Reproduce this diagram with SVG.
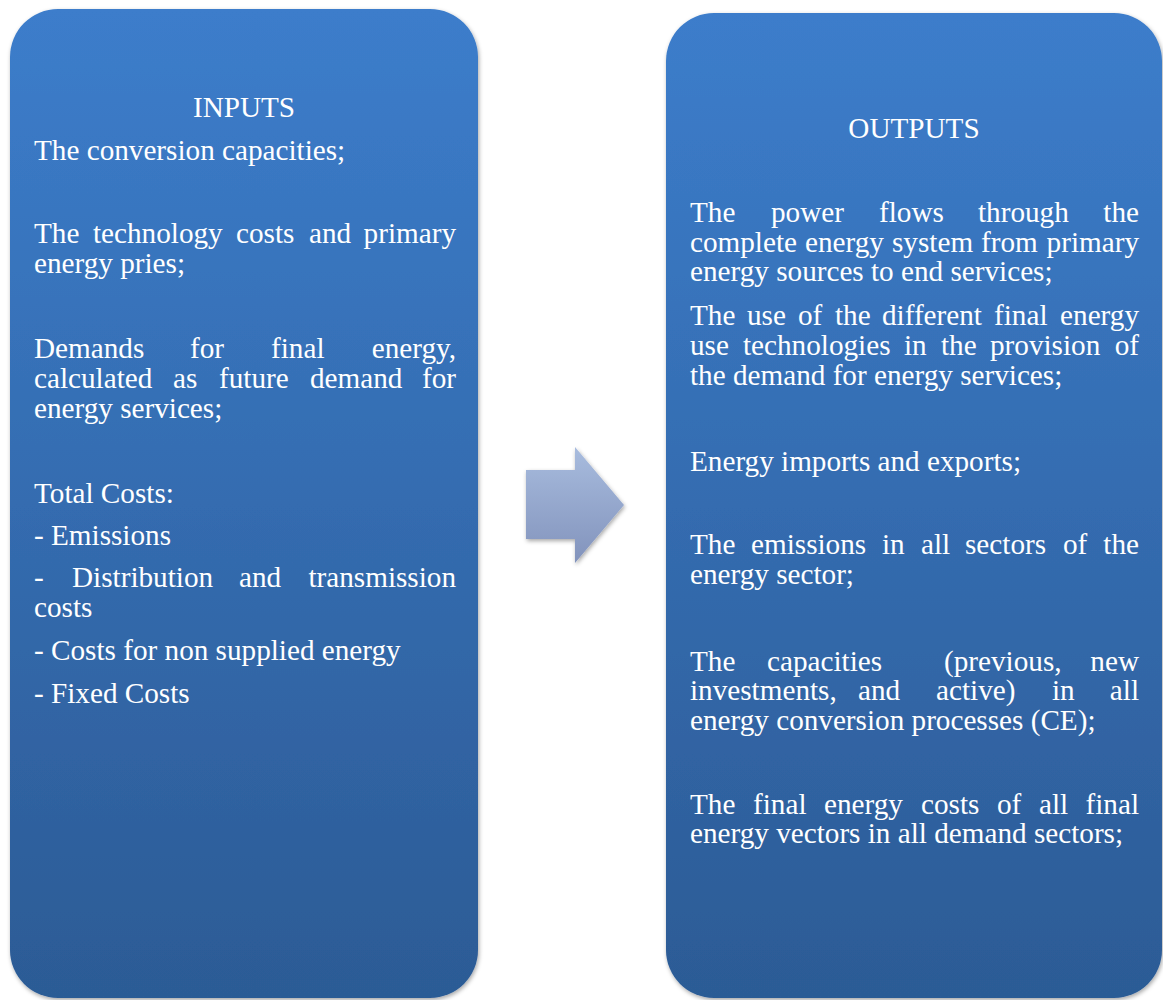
<svg xmlns="http://www.w3.org/2000/svg" width="1163" height="1000" viewBox="0 0 1163 1000">
  <defs>
    <linearGradient id="boxGrad" x1="0" y1="0" x2="0" y2="1">
      <stop offset="0" stop-color="#3C7DCB"/>
      <stop offset="1" stop-color="#2C5B95"/>
    </linearGradient>
    <linearGradient id="arrowGrad" x1="0" y1="0" x2="0" y2="1">
      <stop offset="0" stop-color="#A8BCDE"/>
      <stop offset="1" stop-color="#8293BC"/>
    </linearGradient>
    <filter id="shadow" x="-5%" y="-5%" width="110%" height="110%">
      <feDropShadow dx="1" dy="2" stdDeviation="2" flood-color="#000" flood-opacity="0.35"/>
    </filter>
  </defs>
  <style>
    .box { fill: url(#boxGrad); filter: url(#shadow); }
    .t { font-family: "Liberation Serif", "Times New Roman", serif; font-size: 29.2px; fill: #FFFFFF; }
    .title { text-anchor: middle; }
  </style>
  <rect width="1163" height="1000" fill="#FFFFFF"/>

  <g id="node-inputs">
    <rect class="box" x="10" y="9" width="468" height="989" rx="48" ry="48"/>
    <text class="t title" x="244" y="117">INPUTS</text>
    <text class="t" x="34" y="160">The conversion capacities;</text>
    <text class="t" y="243"><tspan x="34">The</tspan><tspan x="93">technology</tspan><tspan x="236">costs</tspan><tspan x="309">and</tspan><tspan x="456" text-anchor="end">primary</tspan></text>
    <text class="t" x="34" y="273">energy pries;</text>
    <text class="t" y="358"><tspan x="34">Demands</tspan><tspan x="190">for</tspan><tspan x="271">final</tspan><tspan x="456" text-anchor="end">energy,</tspan></text>
    <text class="t" y="388"><tspan x="34">calculated</tspan><tspan x="173">as</tspan><tspan x="219">future</tspan><tspan x="310">demand</tspan><tspan x="456" text-anchor="end">for</tspan></text>
    <text class="t" x="34" y="418">energy services;</text>
    <text class="t" x="34" y="503">Total Costs:</text>
    <text class="t" x="34" y="545">- Emissions</text>
    <text class="t" y="587"><tspan x="34">-</tspan><tspan x="72">Distribution</tspan><tspan x="239">and</tspan><tspan x="456" text-anchor="end">transmission</tspan></text>
    <text class="t" x="34" y="617">costs</text>
    <text class="t" x="34" y="660">- Costs for non supplied energy</text>
    <text class="t" x="34" y="703">- Fixed Costs</text>
  </g>

  <g id="connectors">
    <path d="M526 470 H575 V447 L624 505 L575 563 V539 H526 Z" fill="url(#arrowGrad)" filter="url(#shadow)"/>
  </g>

  <g id="node-outputs">
    <rect class="box" x="666" y="13" width="496" height="985" rx="48" ry="48"/>
    <text class="t title" x="914" y="138">OUTPUTS</text>
    <text class="t" y="222"><tspan x="690">The</tspan><tspan x="771">power</tspan><tspan x="879">flows</tspan><tspan x="978">through</tspan><tspan x="1139" text-anchor="end">the</tspan></text>
    <text class="t" y="252"><tspan x="690">complete</tspan><tspan x="805">energy</tspan><tspan x="892">system</tspan><tspan x="981">from</tspan><tspan x="1139" text-anchor="end">primary</tspan></text>
    <text class="t" x="690" y="281">energy sources to end services;</text>
    <text class="t" y="325"><tspan x="690">The</tspan><tspan x="747">use</tspan><tspan x="798">of</tspan><tspan x="835">the</tspan><tspan x="882">different</tspan><tspan x="994">final</tspan><tspan x="1139" text-anchor="end">energy</tspan></text>
    <text class="t" y="355"><tspan x="690">use</tspan><tspan x="743">technologies</tspan><tspan x="904">in</tspan><tspan x="941">the</tspan><tspan x="990">provision</tspan><tspan x="1139" text-anchor="end">of</tspan></text>
    <text class="t" x="690" y="385">the demand for energy services;</text>
    <text class="t" x="690" y="471">Energy imports and exports;</text>
    <text class="t" y="554"><tspan x="690">The</tspan><tspan x="751">emissions</tspan><tspan x="882">in</tspan><tspan x="921">all</tspan><tspan x="965">sectors</tspan><tspan x="1063">of</tspan><tspan x="1139" text-anchor="end">the</tspan></text>
    <text class="t" x="690" y="584">energy sector;</text>
    <text class="t" y="671"><tspan x="690">The</tspan><tspan x="767">capacities</tspan><tspan x="944">(previous,</tspan><tspan x="1139" text-anchor="end">new</tspan></text>
    <text class="t" y="700"><tspan x="690">investments,</tspan><tspan x="858">and</tspan><tspan x="936">active)</tspan><tspan x="1052">in</tspan><tspan x="1139" text-anchor="end">all</tspan></text>
    <text class="t" x="690" y="730">energy conversion processes (CE);</text>
    <text class="t" y="814"><tspan x="690">The</tspan><tspan x="753">final</tspan><tspan x="824">energy</tspan><tspan x="921">costs</tspan><tspan x="997">of</tspan><tspan x="1039">all</tspan><tspan x="1139" text-anchor="end">final</tspan></text>
    <text class="t" x="690" y="843">energy vectors in all demand sectors;</text>
  </g>
</svg>
